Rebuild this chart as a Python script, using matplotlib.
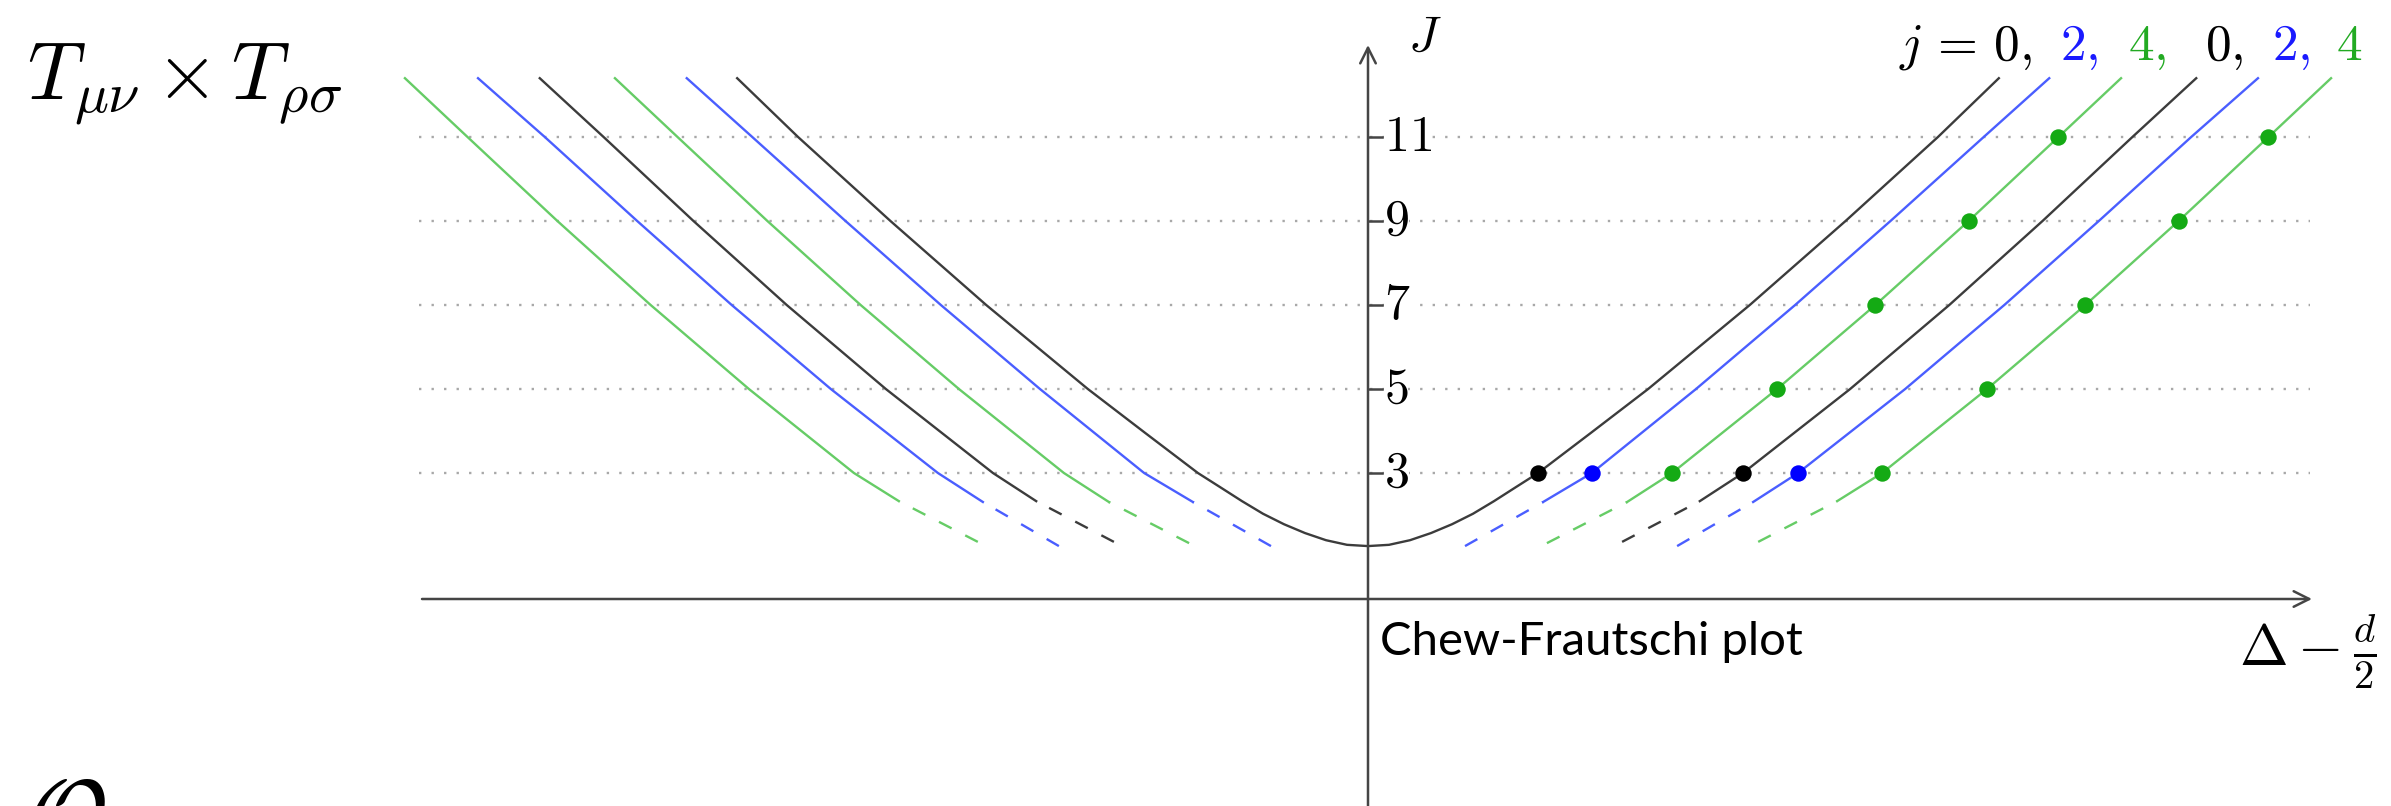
import matplotlib
matplotlib.use("Agg")
import matplotlib.pyplot as plt

plt.rcParams['mathtext.fontset'] = 'cm'

# spins on the grid
J_rows = [3, 5, 7, 9, 11]
J_top = 12.4

# central (j=0, n=0) trajectory, right half, mirrored for the left
central_x = [0.0, 0.5, 1.0, 1.5, 2.0, 2.5, 3.0, 3.5, 4.05, 5.3, 6.67, 9.09, 11.37, 13.57, 15.02]
central_J = [1.26, 1.29, 1.40, 1.57, 1.78, 2.03, 2.33, 2.65, 3, 3.95, 5, 7, 9, 11, J_top]
central_dot = 8  # index of J=3

# other trajectories: dashed low-J piece, then solid piece (J=3..11 and top)
blue1_dash_x = [2.31, 4.17]
blue1_dash_J = [1.26, 2.31]
blue1_x = [4.17, 5.33, 7.81, 10.17, 12.44, 14.66, 16.22]

green1_dash_x = [4.26, 6.17]
green1_dash_J = [1.33, 2.31]
green1_x = [6.17, 7.24, 9.74, 12.08, 14.30, 16.44, 17.93]

black2_dash_x = [6.05, 7.90]
black2_dash_J = [1.36, 2.33]
black2_x = [7.90, 8.93, 11.48, 13.84, 16.06, 18.20, 19.72]

blue2_dash_x = [7.36, 9.17]
blue2_dash_J = [1.26, 2.31]
blue2_x = [9.17, 10.24, 12.79, 15.15, 17.40, 19.60, 21.19]

green2_dash_x = [9.29, 11.17]
green2_dash_J = [1.36, 2.33]
green2_x = [11.17, 12.24, 14.74, 17.08, 19.30, 21.44, 22.93]

solid_J_start = [2.31, 2.31, 2.33, 2.31, 2.33]

# colours
c_line = {'k': '#3c3c3c', 'b': '#4a5eff', 'g': '#66cc66'}
c_dot = {'k': '#000000', 'b': '#0000ff', 'g': '#14aa14'}

# pixel helpers for placing text (axis origin at px (1368, 599), 42 px per unit)
def X(px):
    return (px - 1368) / 42.0

def Y(py):
    return (599 - py) / 42.0

fig = plt.figure(figsize=(23.91, 8.06), dpi=100)
ax = fig.add_axes([0, 0, 1, 1])
ax.set_xlim(X(0), X(2391))
ax.set_ylim(Y(806), Y(0))
ax.axis('off')

# dotted grid
for J in J_rows:
    ax.plot([X(419), X(2310)], [J, J], color='#a8a8a8', lw=1.7,
            linestyle=(0, (1, 4.3)), zorder=1)

# central trajectory
cx = [-v for v in central_x[::-1]] + central_x[1:]
cJ = central_J[::-1] + central_J[1:]
ax.plot(cx, cJ, color=c_line['k'], lw=1.7, zorder=3, solid_joinstyle='round')

curves = [
    (blue1_dash_x, blue1_dash_J, blue1_x, 'b'),
    (green1_dash_x, green1_dash_J, green1_x, 'g'),
    (black2_dash_x, black2_dash_J, black2_x, 'k'),
    (blue2_dash_x, blue2_dash_J, blue2_x, 'b'),
    (green2_dash_x, green2_dash_J, green2_x, 'g'),
]

for (dx, dJ, sx, c), J0 in zip(curves, solid_J_start):
    sJ = [J0] + J_rows + [J_top]
    for sign in (1, -1):
        ax.plot([sign * v for v in dx], dJ, color=c_line[c], lw=1.7,
                linestyle=(0, (6, 6.5)), zorder=3)
        ax.plot([sign * v for v in sx], sJ, color=c_line[c], lw=1.7, zorder=3,
                solid_joinstyle='round')

# physical operators (dots) on the right branches
ax.scatter([central_x[central_dot], black2_x[1]], [3, 3], s=140, color=c_dot['k'],
           zorder=5, linewidths=0)
ax.scatter([blue1_x[1], blue2_x[1]], [3, 3], s=140, color=c_dot['b'], zorder=5,
           linewidths=0)
ax.scatter(green1_x[1:6] + green2_x[1:6], J_rows + J_rows, s=140,
           color=c_dot['g'], zorder=5, linewidths=0)

# axes with arrows
arr = dict(arrowstyle='->', lw=1.8, color='#454545', shrinkA=0, shrinkB=0,
           mutation_scale=28)
ax.annotate('', xy=(X(2312), 0), xytext=(X(422), 0), arrowprops=arr, zorder=4)
ax.annotate('', xy=(0, Y(45)), xytext=(0, Y(830)), arrowprops=arr, zorder=4)

# ticks and labels
for J in J_rows:
    ax.plot([0, X(1382)], [J, J], color='#454545', lw=1.8, zorder=4)
    ax.text(X(1384), J, '$%d$' % J, fontsize=36, ha='left', va='center',
            zorder=4, bbox=dict(facecolor='white', edgecolor='none', pad=0))

ax.text(X(1408), Y(37), '$J$', fontsize=36, ha='left', va='center')
ax.text(X(2308), Y(652), r'$\Delta - \frac{d}{2}$', fontsize=42,
        ha='center', va='center')

ax.text(X(1380), Y(655), 'Chew-Frautschi plot', fontsize=34,
        family=['Lato', 'DejaVu Sans'], ha='left', va='baseline')

ax.text(X(27), Y(100), r'$T_{\mu\nu}\times T_{\rho\sigma}$', fontsize=58,
        ha='left', va='baseline')

ax.text(X(26), Y(850), r'$\mathcal{O}$', fontsize=72, ha='left', va='baseline')

# coloured j = 0, 2, 4, 0, 2, 4
pieces = [(1899, r'$j\,=\,0,$', 'k'), (2060, '$2,$', 'b'), (2128, '$4,$', 'g'),
          (2205, '$0,$', 'k'), (2272, '$2,$', 'b'), (2336, '$4$', 'g')]
txt_col = {'k': '#000000', 'b': '#1a1aff', 'g': '#22aa22'}
for px, s, c in pieces:
    ax.text(X(px), Y(60), s, fontsize=37, color=txt_col[c], ha='left',
            va='baseline')

fig.savefig('out.png', dpi=100)
